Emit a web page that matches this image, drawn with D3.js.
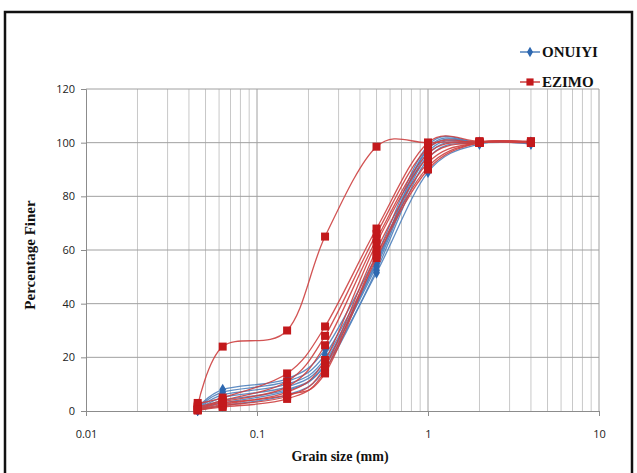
<!DOCTYPE html>
<html><head><meta charset="utf-8">
<script src="https://cdn.jsdelivr.net/npm/d3@7"></script>
<style>html,body{margin:0;padding:0;background:#fff;}svg{display:block;}</style>
</head><body>
<svg id="c" width="637" height="473"></svg>
<script>
// Sieve sizes (mm)
const sizes = [0.045, 0.063, 0.15, 0.25, 0.5, 1, 2, 4];
const seriesNames = ["ONUIYI", "EZIMO"];
const xTicks = [0.01, 0.1, 1, 10];
const yTicks = [0, 20, 40, 60, 80, 100, 120];
// ONUIYI samples (percentage finer)
const onuiyi = [
  [1.0, 8.0, 12.0, 23.0, 58.0, 99.0, 100, 100],
  [0.8, 7.0, 11.0, 21.0, 56.0, 97.5, 100, 100],
  [0.5, 6.0, 10.0, 19.5, 55.0, 96.5, 100, 100],
  [0.4, 5.0, 9.0, 18.5, 54.0, 95.5, 100, 100],
  [0.3, 3.0, 7.5, 17.0, 51.5, 89.0, 99.5, 99.5],
  [0.3, 4.0, 8.0, 17.5, 55.5, 98.0, 100, 100],
  [0.2, 2.0, 6.0, 15.5, 52.5, 94.0, 100, 100]
];
// EZIMO samples (percentage finer)
const ezimo = [
  [2.0, 24.0, 30.0, 65.0, 98.5, 100, 100.5, 100.5],
  [3.0, 5.0, 14.0, 31.5, 68.0, 100, 100.5, 100.5],
  [1.5, 4.0, 11.0, 28.0, 66.0, 98.0, 100, 100],
  [1.0, 3.5, 9.0, 24.5, 64.0, 96.0, 100, 100],
  [0.5, 2.5, 7.0, 19.0, 62.5, 94.5, 100, 100],
  [0.3, 2.0, 5.5, 16.5, 60.0, 92.5, 100, 100],
  [0.2, 1.5, 4.5, 15.0, 58.0, 91.0, 100, 100],
  [0.5, 3.0, 6.0, 14.0, 57.0, 90.0, 100, 100]
];

const svg = d3.select("#c");
const pL = 86, pR = 599, pT = 89, pB = 411;
const x = d3.scaleLog().domain([0.01, 10]).range([pL, pR]);
const y = d3.scaleLinear().domain([0, 120]).range([pB, pT]);

// outer border
svg.append("rect").attr("x", 5).attr("y", 12).attr("width", 627).attr("height", 475)
  .attr("fill", "none").attr("stroke", "#111").attr("stroke-width", 2.5);

// minor vertical gridlines
const minor = [];
for (let d = 0.01; d < 10; d *= 10) for (let k = 2; k <= 9; k++) minor.push(+(d * k).toPrecision(3));
svg.append("g").selectAll("line").data(minor).join("line")
  .attr("x1", d => x(d)).attr("x2", d => x(d)).attr("y1", pT).attr("y2", pB)
  .attr("stroke", "#c8c8c8").attr("stroke-width", 1);
// major vertical gridlines
svg.append("g").selectAll("line").data(xTicks.slice(1)).join("line")
  .attr("x1", d => x(d)).attr("x2", d => x(d)).attr("y1", pT).attr("y2", pB)
  .attr("stroke", "#a0a0a0").attr("stroke-width", 1);
// horizontal gridlines
svg.append("g").selectAll("line").data(yTicks.slice(1)).join("line")
  .attr("x1", pL).attr("x2", pR).attr("y1", d => y(d)).attr("y2", d => y(d))
  .attr("stroke", "#a0a0a0").attr("stroke-width", 1);

// axes
const xAxis = svg.append("g").attr("transform", `translate(0,${pB})`)
  .call(d3.axisBottom(x).tickValues(xTicks).tickFormat(d => String(d)).tickSize(5).tickPadding(14));
const yAxis = svg.append("g").attr("transform", `translate(${pL},0)`)
  .call(d3.axisLeft(y).tickValues(yTicks).tickSize(5).tickPadding(6));
[xAxis, yAxis].forEach(a => {
  a.select(".domain").attr("stroke", "#8c8c8c");
  a.selectAll(".tick line").attr("stroke", "#8c8c8c");
  a.selectAll("text").attr("font-family", "Open Sans, Liberation Sans, sans-serif")
    .attr("font-size", 11).attr("fill", "#222");
});

// lines
const line = d3.line().x(d => x(d[0])).y(d => y(d[1])).curve(d3.curveCatmullRom.alpha(0));
const groups = [
  {data: onuiyi, line: "#4f81bd", mark: "#2e68b0", shape: d3.symbolDiamond, size: 40},
  {data: ezimo, line: "#cd4040", mark: "#c3191c", shape: d3.symbolSquare, size: 64}
];
groups.forEach(g => {
  const gg = svg.append("g");
  g.data.forEach(vals => {
    const pts = sizes.map((s, i) => [s, vals[i]]);
    gg.append("path").attr("d", line(pts)).attr("fill", "none")
      .attr("stroke", g.line).attr("stroke-width", 1.3).attr("stroke-opacity", 0.9);
  });
  g.data.forEach(vals => {
    gg.append("g").selectAll("path").data(sizes.map((s, i) => [s, vals[i]])).join("path")
      .attr("transform", d => `translate(${x(d[0])},${y(d[1])})`)
      .attr("d", d3.symbol().type(g.shape).size(g.size)).attr("fill", g.mark);
  });
});

// legend
const legY = [52, 82];
seriesNames.forEach((n, i) => {
  const g = groups[i];
  svg.append("line").attr("x1", 520).attr("x2", 540).attr("y1", legY[i]).attr("y2", legY[i])
    .attr("stroke", g.line).attr("stroke-width", 1.5);
  svg.append("path").attr("transform", `translate(530,${legY[i]})`)
    .attr("d", d3.symbol().type(g.shape).size(g.size * 0.8)).attr("fill", g.mark);
  svg.append("text").attr("x", 542).attr("y", legY[i] + 5).text(n)
    .attr("font-family", "Liberation Serif, serif").attr("font-weight", "bold")
    .attr("font-size", 15).attr("fill", "#111");
});

// axis titles
svg.append("text").attr("x", 340).attr("y", 461).attr("text-anchor", "middle")
  .text("Grain size (mm)").attr("font-family", "Liberation Serif, serif")
  .attr("font-weight", "bold").attr("font-size", 14).attr("fill", "#111");
svg.append("text").attr("transform", "translate(35,255) rotate(-90)").attr("text-anchor", "middle")
  .text("Percentage Finer").attr("font-family", "Liberation Serif, serif")
  .attr("font-weight", "bold").attr("font-size", 15).attr("fill", "#111");
</script>
</body></html>
